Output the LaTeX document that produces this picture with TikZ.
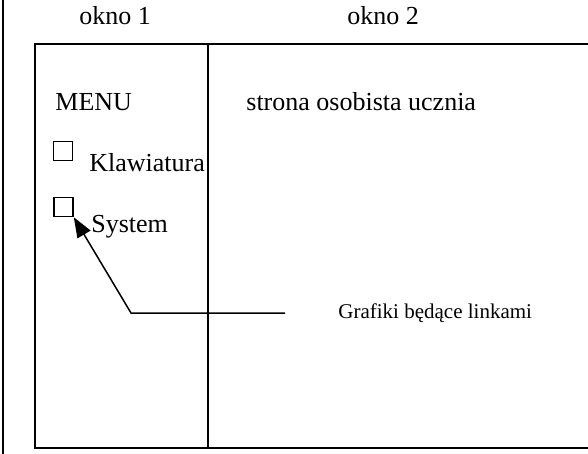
\documentclass[tikz,border=0pt]{standalone}
\usepackage{fontspec}
\setmainfont{Liberation Serif}
\usetikzlibrary{arrows.meta}
\begin{document}
\begin{tikzpicture}[x=0.5pt,y=-0.5pt,
  frame/.style={line width=1pt,black},
  lbl/.style={anchor=base west,inner sep=0pt,font=\fontsize{13}{15}\selectfont},
  smalllbl/.style={anchor=base west,inner sep=0pt,font=\fontsize{10.5}{12}\selectfont},
  chk/.style={draw,line width=0.8pt,minimum size=9.5pt,inner sep=0pt},
  link/.style={line width=0.75pt,-{Triangle[length=10pt,width=7.5pt]}}]
\useasboundingbox (0,0) rectangle (588,454);
% page edge
\draw[frame] (3,0) -- (3,454);
% window frame
\coordinate (tl) at (35,44);
\coordinate (bl) at (35,448);
\coordinate (tr) at (588,44);
\coordinate (br) at (588,448);
\coordinate (dt) at (207.5,44);
\coordinate (db) at (207.5,448);
\draw[frame] (tr) -- (tl) -- (bl) -- (br);
\draw[frame] (dt) -- (db);
% titles
\node[lbl] (okno1) at (79,25) {okno 1};
\node[lbl] (okno2) at (347,25) {okno 2};
\node[lbl] (menu) at (55,111) {MENU};
\node[lbl] (strona) at (246,111) {strona osobista ucznia};
% menu items
\node[chk] (boxk) at (63,151) {};
\node[lbl] (klaw) at (89,172) {Klawiatura};
\node[chk] (boxs) at (63.5,207) {};
\node[lbl] (sys) at (91,233) {System};
% link annotation
\node[smalllbl] (graf) at (338,318) {Grafiki będące linkami};
\coordinate (lend) at (285,313);
\coordinate (lbend) at (131,313);
\draw[link] (lend) -- (lbend) -- (boxs.south east);
\end{tikzpicture}
\end{document}
